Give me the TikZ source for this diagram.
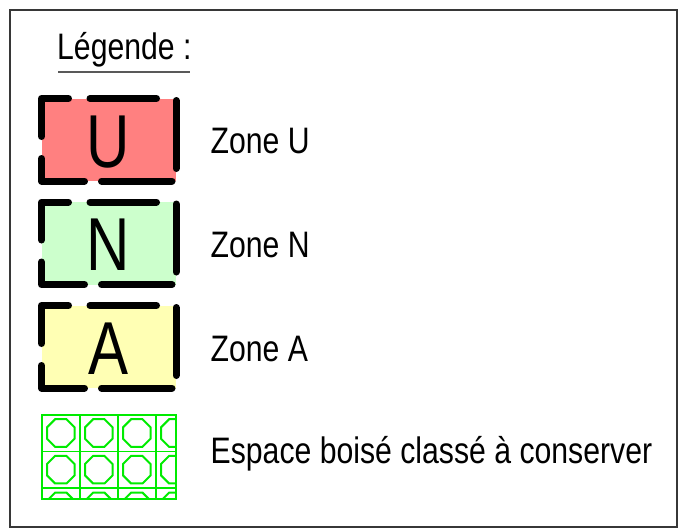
\documentclass[tikz,border=0pt]{standalone}
\usepackage{fontspec}
\setmainfont{Liberation Sans}
\definecolor{zu}{RGB}{255,128,128}
\definecolor{zn}{RGB}{204,255,204}
\definecolor{za}{RGB}{255,255,180}
\definecolor{ebc}{RGB}{0,235,0}
\definecolor{framecol}{RGB}{55,55,55}
\newcommand\tallt[1]{\scalebox{1}[1.22]{#1}}
\tikzset{
  zonedash/.style={line width=7pt, line cap=round, line join=round, black},
  lbl/.style={font=\fontsize{30.2}{36}\selectfont, anchor=base west, inner sep=0pt},
  bigletter/.style={font=\fontsize{75}{80}\selectfont, anchor=base, inner sep=0pt},
  gridline/.style={ebc, line width=1.5pt},
  octo/.style={ebc, line width=2pt, line join=miter},
}
\newcommand\zonebox[4]{% #1 top y, #2 fill colour, #3 letter, #4 node name
  \fill[#2] (41.5,#1) rectangle (176,#1+82.5);
  \draw[zonedash] (68.5,#1) -- (41.5,#1) -- (41.5,#1+38);
  \draw[zonedash] (90,#1) -- (156.5,#1);
  \draw[zonedash] (41.5,#1+60) -- (41.5,#1+82.5) -- (84.5,#1+82.5);
  \draw[zonedash] (101.5,#1+82.5) -- (172,#1+82.5);
  \draw[zonedash] (176,#1+2) -- (176,#1+70);
  \node[bigletter] (#4) at (108.5,#1+68.5) {\scalebox{0.8}[1]{#3}};
}
\begin{document}
\begin{tikzpicture}[x=1pt,y=-1pt]
  \useasboundingbox (0,0) rectangle (687,530);
  \draw[framecol, line width=2pt] (9.5,10.3) rectangle (676.7,527);
  % title
  \node[lbl] (title) at (57,59.5) {\tallt{Légende :}};
  \draw[black!65, line width=1.6pt] (58,71.7) -- (189.5,71.7);
  % zones
  \zonebox{98.5}{zu}{U}{letU}
  \zonebox{202}{zn}{N}{letN}
  \zonebox{305.5}{za}{A}{letA}
  \node[lbl] (zoneU) at (210.5,153.5) {\tallt{Zone U}};
  \node[lbl] (zoneN) at (210.5,257.5) {\tallt{Zone N}};
  \node[lbl] (zoneA) at (210.5,361) {\tallt{Zone A}};
  % wooded area
  \begin{scope}
    \clip (41.7,415) rectangle (175.7,499);
    \foreach \i in {0,...,3}{
      \foreach \j in {0,1,2}{
        \draw[octo] (60.8+38*\i,433+36.7*\j)
          +(22.5:14.9) -- +(67.5:14.9) -- +(112.5:14.9) -- +(157.5:14.9)
          -- +(202.5:14.9) -- +(247.5:14.9) -- +(292.5:14.9) -- +(337.5:14.9) -- cycle;
      }
    }
  \end{scope}
  \foreach \x in {79.8,117.8,155.8}{
    \draw[gridline] (\x,415) -- (\x,499);
  }
  \foreach \y in {451.3,488.2}{
    \draw[gridline] (41.7,\y) -- (175.7,\y);
  }
  \draw[gridline, line width=1.8pt] (41.7,415) rectangle (175.7,499);
  \node[lbl] (ebcText) at (210.5,463) {\tallt{Espace boisé classé à conserver}};
\end{tikzpicture}
\end{document}
